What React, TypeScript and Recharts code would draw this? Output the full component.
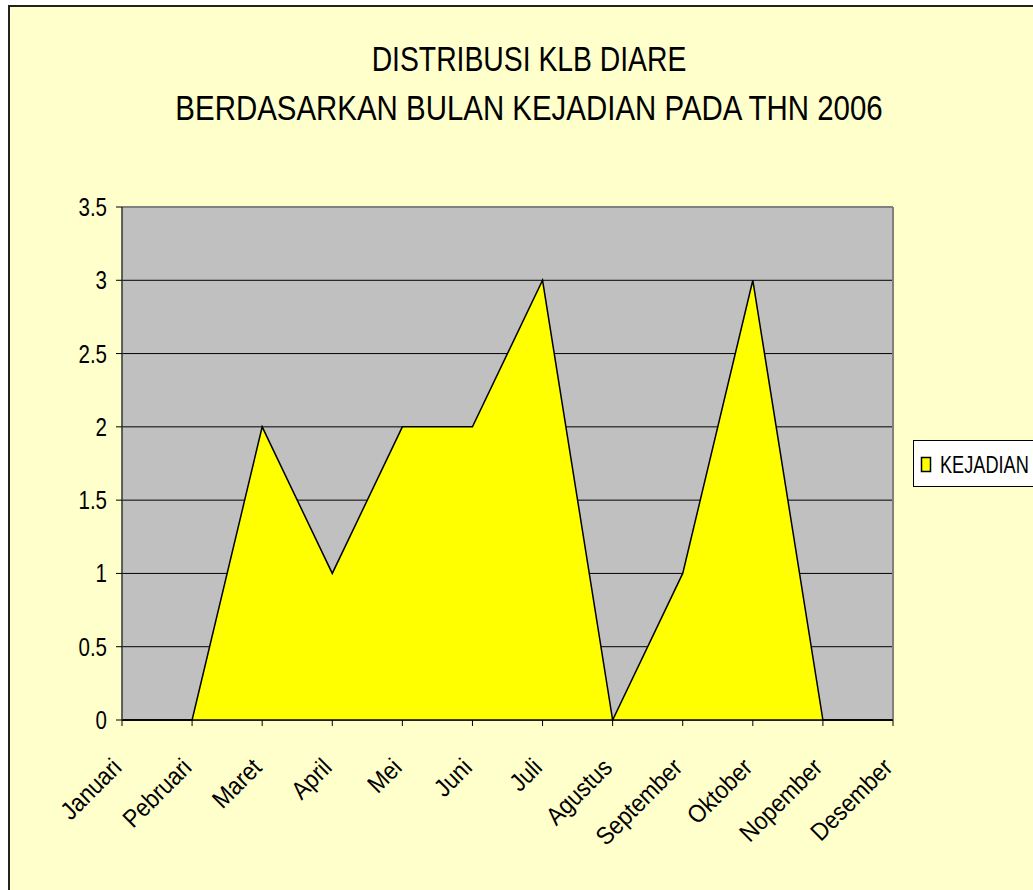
import React from "react";
import {
  AreaChart, Area, XAxis, YAxis, CartesianGrid, ReferenceLine,
} from "recharts";

const months = [
  "Januari", "Pebruari", "Maret", "April", "Mei", "Juni",
  "Juli", "Agustus", "September", "Oktober", "Nopember", "Desember",
];
const kejadian = [0, 0, 2, 1, 2, 2, 3, 0, 1, 3, 0, 0];
const yTicks = [0, 0.5, 1, 1.5, 2, 2.5, 3, 3.5];
const titleLines = ["DISTRIBUSI KLB DIARE", "BERDASARKAN BULAN KEJADIAN PADA THN 2006"];
const seriesName = "KEJADIAN";

const chartData = months.map((m, i) => ({ bulan: m, kejadian: kejadian[i] }));

const FONT = "'Liberation Sans', Arial, sans-serif";
// the original text is tall and narrow, so squeeze it horizontally
const SQUEEZE = 0.82;

const MonthTick = ({ x, y, payload }: any) => (
  <g transform={`translate(${x + 1},${y + 41}) rotate(-45) scale(0.9,1)`}>
    <text textAnchor="end" fontSize={25} fill="#000" fontFamily={FONT}>
      {payload.value}
    </text>
  </g>
);

const ValueTick = ({ x, y, payload }: any) => (
  <g transform={`translate(${x},${y}) scale(${SQUEEZE},1)`}>
    <text textAnchor="end" dy="0.36em" fontSize={25} fill="#000" fontFamily={FONT}>
      {String(payload.value)}
    </text>
  </g>
);

export default function App() {
  return (
    <div style={{ position: "absolute", left: 0, top: 0, width: 1033, height: 890, overflow: "hidden" }}>
      {/* chart frame */}
      <div
        style={{
          position: "absolute", left: 8, top: 5, width: 1100, height: 950,
          background: "#FFFFCC", borderLeft: "2px solid #222", borderTop: "2px solid #222",
        }}
      />
      <svg width={1033} height={150} style={{ position: "absolute", left: 0, top: 0 }}>
        <g transform="translate(529,71) scale(0.787,1)">
          <text textAnchor="middle" fontSize={36} fontFamily={FONT}>{titleLines[0]}</text>
        </g>
        <g transform="translate(529,120) scale(0.818,1)">
          <text textAnchor="middle" fontSize={36} fontFamily={FONT}>{titleLines[1]}</text>
        </g>
      </svg>
      <div style={{ position: "absolute", left: 0, top: 0 }}>
        <AreaChart width={1033} height={890} data={chartData} margin={{ top: 207, right: 140, bottom: 70, left: 0 }}>
          <CartesianGrid fill="#C0C0C0" stroke="#000" vertical={false} />
          <XAxis
            dataKey="bulan"
            interval={0}
            height={100}
            tick={<MonthTick />}
            tickSize={6}
            axisLine={{ stroke: "#000", strokeWidth: 1.5 }}
            tickLine={{ stroke: "#000" }}
          />
          <YAxis
            width={122}
            domain={[0, 3.5]}
            ticks={yTicks}
            tickSize={6}
            tickMargin={9}
            axisLine={{ stroke: "#333", strokeWidth: 1.5 }}
            tickLine={{ stroke: "#000" }}
            tick={<ValueTick />}
          />
          <ReferenceLine y={3.5} stroke="#808080" strokeWidth={2} />
          <ReferenceLine x="Desember" stroke="#808080" strokeWidth={2} />
          <Area
            type="linear"
            dataKey="kejadian"
            name={seriesName}
            fill="#FFFF00"
            fillOpacity={1}
            stroke="#000"
            strokeWidth={1.5}
            isAnimationActive={false}
          />
        </AreaChart>
      </div>
      {/* legend */}
      <svg width={1033} height={890} style={{ position: "absolute", left: 0, top: 0, pointerEvents: "none" }}>
        <rect x={913.5} y={440.5} width={140} height={46} fill="#fff" stroke="#000" />
        <rect x={921.5} y={457.5} width={9} height={14} fill="#FFFF00" stroke="#000" strokeWidth={1.5} />
        <g transform="translate(940,473) scale(0.79,1)">
          <text fontSize={23} fontFamily={FONT} fill="#000">{seriesName}</text>
        </g>
      </svg>
    </div>
  );
}
